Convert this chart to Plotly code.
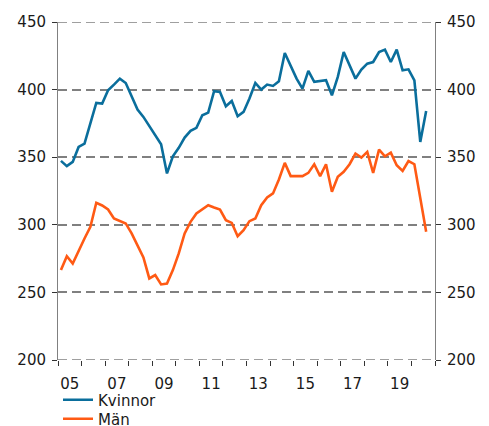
import plotly.graph_objects as go

# quarterly series, 2005 Q1 - 2020 Q3
years = list(range(2005, 2021))
quarters = [f"{y}K{q}" for y in years for q in range(1, 5)][:63]

kvinnor = [
    347.3, 343.4, 346.5, 357.6, 360.0, 374.9, 390.2, 389.7, 399.5, 403.7,
    408.1, 404.9, 394.6, 385.2, 379.8, 372.9, 366.3, 359.6, 338.0, 350.7,
    356.9, 364.5, 369.5, 371.7, 381.0, 383.0, 398.8, 398.3, 387.7, 391.6,
    380.3, 383.5, 393.4, 404.9, 400.0, 403.7, 402.7, 406.2, 427.1, 418.0,
    408.1, 400.7, 413.8, 405.7, 406.4, 406.9, 395.8, 409.4, 427.8, 418.0,
    408.1, 414.8, 419.2, 420.4, 427.8, 429.6, 420.4, 429.6, 414.3, 415.0,
    406.9, 361.3, 384.2,
]
man = [
    266.5, 276.8, 271.4, 281.3, 289.9, 298.5, 316.3, 314.3, 311.3, 304.7,
    302.7, 301.0, 293.6, 285.0, 275.9, 260.3, 262.8, 255.9, 256.6, 266.5,
    278.8, 293.6, 302.2, 308.4, 311.3, 314.5, 312.8, 311.3, 303.4, 301.4,
    291.6, 296.0, 302.7, 304.7, 314.5, 320.2, 323.2, 333.5, 345.8, 336.0,
    336.0, 336.0, 338.4, 344.8, 336.0, 344.8, 324.4, 335.5, 339.2, 344.8,
    352.7, 349.7, 353.9, 338.4, 355.6, 350.7, 353.4, 344.0, 339.8, 347.2,
    344.8, 320.7, 294.9,
]

tick_years = list(range(2005, 2022))
label_years = list(range(2005, 2020, 2))
label_text = [f"{y % 100:02d}" for y in label_years]
y_ticks = list(range(200, 451, 50))


def quarter_pos(label: str) -> float:
    year, q = label.split("K")
    return int(year) + (int(q) - 0.5) / 4


x = [quarter_pos(q) for q in quarters]

W, H = 489, 426
FONT = "Verdana, DejaVu Sans, sans-serif"
GRID = "#808080"
TEXT = "#1a1a1a"

fig = go.Figure()
fig.add_trace(go.Scatter(x=x, y=kvinnor, mode="lines", name="Kvinnor",
                         line=dict(color="#0A6E9C", width=2.6), legend="legend"))
fig.add_trace(go.Scatter(x=x, y=man, mode="lines", name="Män",
                         line=dict(color="#FF5A14", width=2.6), legend="legend2"))
# helper trace so the right axis and the label axis exist
fig.add_trace(go.Scatter(x=x, y=kvinnor, mode="lines", xaxis="x2", yaxis="y2",
                         line=dict(width=0), showlegend=False, hoverinfo="skip"))

# the edge gridlines (200 and 450) are not drawn by plotly, add them as shapes
for v in (y_ticks[0], y_ticks[-1]):
    fig.add_shape(type="line", xref="paper", x0=0, x1=1, yref="y", y0=v, y1=v,
                  line=dict(color=GRID, width=1.6, dash="9px,5px"), layer="below")

yaxis_common = dict(
    range=[y_ticks[0], y_ticks[-1]], tickvals=y_ticks,
    ticks="outside", ticklen=5, tickcolor="#333333", ticklabelstandoff=3,
    showline=True, linecolor=GRID, linewidth=1, zeroline=False,
    tickfont=dict(family=FONT, size=15, color=TEXT),
    automargin=False,
)

legend_common = dict(x=0.0, xanchor="left", xref="paper", yanchor="middle",
                     yref="container", font=dict(family=FONT, size=15, color=TEXT),
                     bgcolor="rgba(0,0,0,0)")

fig.update_layout(
    width=W, height=H,
    margin=dict(l=58, r=54, t=22, b=66),
    plot_bgcolor="white", paper_bgcolor="white",
    font=dict(family=FONT, size=15, color=TEXT),
    xaxis=dict(
        range=[2005, 2021], tickvals=tick_years, showticklabels=False,
        ticks="outside", ticklen=5, tickcolor="#333333",
        showgrid=False, showline=False, zeroline=False, automargin=False,
    ),
    xaxis2=dict(
        range=[2005, 2021], overlaying="x", side="bottom", anchor="y",
        tickvals=[y + 0.5 for y in label_years], ticktext=label_text,
        ticks="outside", ticklen=10, tickcolor="rgba(0,0,0,0)",
        showgrid=False, showline=False, zeroline=False, automargin=False,
        tickfont=dict(family=FONT, size=15, color=TEXT),
    ),
    yaxis=dict(**yaxis_common, showgrid=True, gridcolor=GRID, gridwidth=1.6,
               griddash="9px,5px"),
    yaxis2=dict(**yaxis_common, overlaying="y", side="right", anchor="x",
                showgrid=False),
    legend=dict(**legend_common, y=1 - 400 / H),
    legend2=dict(**legend_common, y=1 - 419 / H),
    showlegend=True,
)

fig.write_html("out.html", config={"displayModeBar": False},
               post_script="document.body.style.margin = '0';")
